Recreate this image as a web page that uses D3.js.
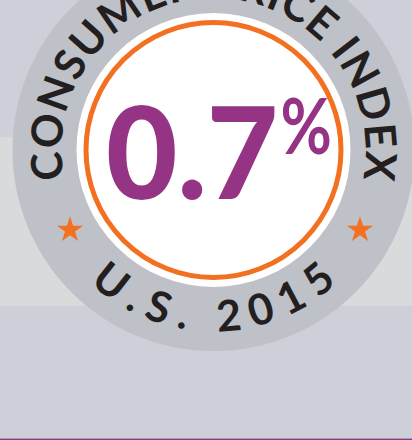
<!DOCTYPE html>
<html>
<head>
<meta charset="utf-8">
<script src="https://cdn.jsdelivr.net/npm/d3@7"></script>
<style>
  html, body { margin: 0; padding: 0; background: #cdd0d8; }
  svg { display: block; }
</style>
</head>
<body>
<div id="chart"></div>
<script>
// ---- data ----
const topLabel = ["C","O","N","S","U","M","E","R"," ","P","R","I","C","E"," ","I","N","D","E","X"];
const bottomLabel = ["U",".","S","."," ","2","0","1","5"];
const valueText = ["0.7"];
const unitText = ["%"];
const bands = [
  {name: "top", from: 0, to: 137},
  {name: "middle", from: 137, to: 306},
  {name: "bottom", from: 306, to: 438.6}
];

const W = 412, H = 440;
const cx = 213.5, cy = 150;
const ringFont = "Lato";
const bandColor = {top: "#cdd0d8", middle: "#d9dadc", bottom: "#cdd0d8"};

const svg = d3.select("#chart").append("svg")
  .attr("width", W).attr("height", H);

const y = d3.scaleLinear().domain([0, H]).range([0, H]);

svg.selectAll("rect.band").data(bands).join("rect")
  .attr("class", "band")
  .attr("x", 0).attr("width", W)
  .attr("y", d => y(d.from)).attr("height", d => y(d.to) - y(d.from))
  .attr("fill", d => bandColor[d.name]);

svg.append("rect").attr("x", 0).attr("width", W)
  .attr("y", 438.6).attr("height", H - 438.6).attr("fill", "#8e3a86");

const g = svg.append("g").attr("transform", `translate(${cx},${cy})`);

g.append("circle").attr("r", 201).attr("fill", "#bec1c8");
g.append("circle").attr("r", 137).attr("fill", "#ffffff");
g.append("circle").attr("r", 127.5).attr("fill", "none")
  .attr("stroke", "#f37021").attr("stroke-width", 5);

// canvas measurement helper
const ctx = document.createElement("canvas").getContext("2d");
function measure(text, font) {
  ctx.font = font;
  return ctx.measureText(text);
}

// arc text layout: distribute characters along an arc so that they exactly fill the angular span
function arcText(chars, radius, a0, a1, fontSize, weight, bottom) {
  const font = `${weight} ${fontSize}px ${ringFont}`;
  const widths = chars.map(c => measure(c, font).width);
  const arcLen = radius * Math.abs(a1 - a0) * Math.PI / 180;
  const total = d3.sum(widths);
  const gap = (arcLen - total) / (chars.length - 1);
  const scale = d3.scaleLinear().domain([0, arcLen]).range([a0, a1]);
  let pos = 0;
  const items = chars.map((c, i) => {
    const center = pos + widths[i] / 2;
    pos += widths[i] + gap;
    return {c, angle: scale(center)};
  });
  g.selectAll(null).data(items.filter(d => d.c !== " ")).join("text")
    .attr("transform", d => bottom
      ? `rotate(${d.angle}) translate(0,${radius})`
      : `rotate(${d.angle}) translate(0,${-radius})`)
    .attr("text-anchor", "middle")
    .attr("font-family", ringFont)
    .attr("font-weight", weight)
    .attr("font-size", fontSize)
    .attr("fill", "#231f20")
    .text(d => d.c);
}

arcText(topLabel, 152, -101, 101, 43, 700, false);
arcText(bottomLabel, 181.5, 43, -43, 43, 700, true);

// stars
const star = d3.symbol().type(d3.symbolStar).size(210);
[[-143.5, 80], [146.5, 80]].forEach(p => {
  g.append("path").attr("d", star())
    .attr("transform", `translate(${p[0]},${p[1]})`)
    .attr("fill", "#f37021");
});

// big number, fitted to its ink box
function fitText(text, weight, box, color) {
  const base = 100;
  const m = measure(text, `${weight} ${base}px Lato`);
  const inkH = m.actualBoundingBoxAscent + m.actualBoundingBoxDescent;
  const fs = base * (box.y1 - box.y0) / inkH;
  const m2 = measure(text, `${weight} ${fs}px Lato`);
  const inkW = m2.actualBoundingBoxLeft + m2.actualBoundingBoxRight;
  const sx = (box.x1 - box.x0) / inkW;
  svg.append("text")
    .attr("transform", `translate(${box.x0},${box.y1}) scale(${sx},1)`)
    .attr("x", m2.actualBoundingBoxLeft)
    .attr("y", -m2.actualBoundingBoxDescent)
    .attr("font-family", "Lato").attr("font-weight", weight)
    .attr("font-size", fs)
    .attr("fill", color)
    .text(text);
}
fitText(valueText[0], 900, {x0: 108, x1: 275, y0: 105, y1: 200}, "#953385");
fitText(unitText[0], 700, {x0: 282, x1: 330, y0: 98, y1: 155}, "#953385");
</script>
</body>
</html>
